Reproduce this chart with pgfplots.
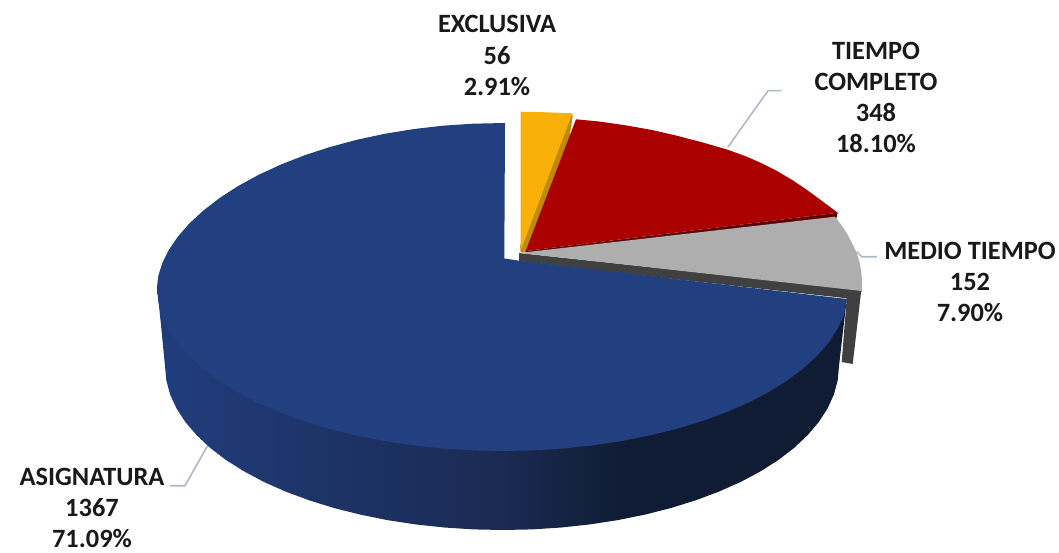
\documentclass[border=0pt]{standalone}
\usepackage{pgfplots}
\pgfplotsset{compat=1.18}
\usepackage{fontspec}
\setmainfont{Carlito}
\definecolor{bluetop}{HTML}{223F7F}
\definecolor{redtop}{HTML}{AA0000}
\definecolor{redside}{HTML}{5A0606}
\definecolor{greytop}{HTML}{AEAEAE}
\definecolor{greyside}{HTML}{404040}
\definecolor{yellowtop}{HTML}{F9B10A}
\definecolor{yellowside}{HTML}{C08A08}
\definecolor{leader}{HTML}{ADB9CA}
\definecolor{sa}{HTML}{213C7A}
\definecolor{sb}{HTML}{1E366C}
\definecolor{sc}{HTML}{1A2A52}
\definecolor{sd}{HTML}{101C34}
\definecolor{se}{HTML}{0F1B30}
\pgfdeclarehorizontalshading{pieside}{100bp}{
 color(0bp)=(sa);
 color(27bp)=(sa);
 color(34bp)=(sb);
 color(50bp)=(sc);
 color(59bp)=(sd);
 color(100bp)=(se)}
\newcommand{\lab}[3]{\node[align=center,inner sep=0pt,text=black!90,font=\fontsize{26.4}{31.2}\selectfont\bfseries] at (axis cs:#1,#2) {#3};}
\begin{document}
\begin{tikzpicture}
\path[use as bounding box] (0,0) rectangle (1059pt,553pt);
\begin{axis}[
 at={(0,0)},anchor=south west,
 width=1059pt,height=553pt,scale only axis,
 xmin=0,xmax=1059,ymin=0,ymax=553,y dir=reverse,
 hide axis,clip=false]
% leader lines
\addplot[leader,line width=1.6pt,mark=none] coordinates {(728,147)(768,90.7)(781.7,90.7)};
\addplot[leader,line width=1.6pt,mark=none] coordinates {(856.7,251.7)(861.7,256.7)(877,256.7)};
\addplot[leader,line width=1.6pt,mark=none] coordinates {(208,445)(185,485.7)(170,485.7)};
% yellow slice
\addplot[draw=none,fill=yellowside,mark=none] coordinates {(572.3,113.3)(572.6,117)(569.6,137)(526,252)(520.7,252.5)(520,246)};
\addplot[draw=none,fill=yellowtop,mark=none] coordinates {(520.7,111.7)(546.7,112.3)(572.3,113.3)(522,247)(520.7,250)};
% red slice
\addplot[draw=none,fill=redside,mark=none] coordinates {(837.7,212.7)(836.5,218)(526,253.5)(525.7,251)};
\addplot[draw=none,fill=redtop,mark=none] coordinates {
(525.7,251)(576,119.3)(600,121.6)(626.7,125.5)(652,130)(676.7,135.7)(702,142.3)(727,149.5)(745,156)(760,162.5)(777,171)(793,180.5)(807,190)(820,199.5)(837.7,212.7)};
% grey slice: wall, then top
\addplot[draw=none,fill=greyside,mark=none] coordinates {(519,253)(519,261)(620,273)(846.7,298.3)(841.7,362)(852.7,364)(861,292.7)(862,290)};
\addplot[draw=none,fill=greytop,mark=none] coordinates {
(519,253)(835,216.7)(841,224.5)(846.7,233)(852,243)(856.7,253)(859.5,262)(861,270)(862,280)(861.7,291)(620,264)};
% blue slice: side, then top
\addplot[draw=none,shading=pieside,mark=none] coordinates {
(157,287)(161,325)(165,366)(166.3,380.3)(170.1,394.5)(176.5,408.4)(185.4,422.1)(196.7,435.3)(210.3,448)(226.1,460.1)(244.1,471.4)(264,482)(285.7,491.6)(309.1,500.3)(334,508)(360.2,514.6)(387.4,520.1)(415.5,524.4)(444.3,527.5)(473.5,529.4)(503,530)
(532.3,529.4)(561.3,527.5)(590,524.4)(617.9,520.1)(645,514.6)(671,508)(695.7,500.3)(719,491.6)(740.6,482)(760.4,471.4)(778.2,460.1)(794,448)(807.5,435.3)(818.7,422.1)(827.6,408.4)(833.9,394.5)(837.7,380.3)(839,366)(846.7,299)};
\addplot[draw=none,fill=bluetop,mark=none] coordinates {
(505,123)(504.3,258.5)(519.3,260.7)(846.7,299)
(843.7,315.5)(837.2,329.4)(828.1,343.1)(816.6,356.3)(802.6,369)(786.4,381.1)(768,392.4)(747.7,403)(725.4,412.6)(701.5,421.3)(676,429)(649.2,435.6)(621.3,441.1)(592.6,445.4)(563.1,448.5)(533.2,450.4)(503,451)
(472.8,450.4)(442.9,448.5)(413.4,445.4)(384.7,441.1)(356.8,435.6)(330,429)(304.5,421.3)(280.6,412.6)(258.3,403)(238,392.4)(219.6,381.1)(203.4,369)(189.4,356.3)(177.9,343.1)(168.8,329.4)(162.3,315.5)(158.3,301.3)(157,287)
(158.3,275.8)(162.3,263.1)(168.8,249.9)(177.9,236.6)(189.4,223.4)(203.4,210.5)(219.6,198)(238,186.1)(258.3,175)(280.6,164.7)(304.5,155.3)(330,147)(356.8,139.8)(384.7,133.8)(413.5,129.1)(442.9,125.7)(472.8,123.7)};
% labels
\lab{497}{55.5}{EXCLUSIVA\\56\\2.91\%}
\lab{876}{97.5}{TIEMPO\\COMPLETO\\348\\18.10\%}
\lab{970}{282}{MEDIO TIEMPO\\152\\7.90\%}
\lab{92}{508}{ASIGNATURA\\1367\\71.09\%}
\end{axis}
\end{tikzpicture}
\end{document}
